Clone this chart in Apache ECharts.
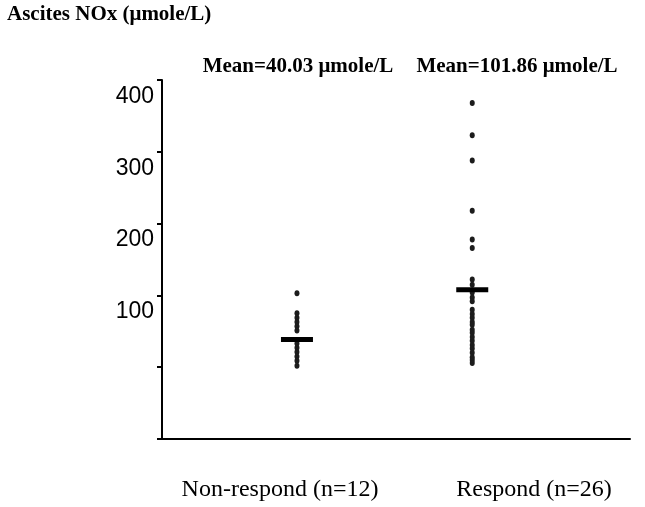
<!DOCTYPE html>
<html><head><meta charset="utf-8">
<script src="https://cdn.jsdelivr.net/npm/echarts@6/dist/echarts.min.js"></script>
<style>html,body{margin:0;padding:0;background:#fff}#c{width:645px;height:507px}</style>
</head><body><div id="c"></div>
<script>
const yAxisTitle = 'Ascites NOx (μmole/L)';
const groups = ['Non-respond (n=12)', 'Respond (n=26)'];
const groupX = [1, 2];
const meanLabels = ['Mean=40.03 μmole/L', 'Mean=101.86 μmole/L'];
const meanValues = [38.5, 108];
const nonRespond = [103, 75, 69, 63, 57, 51, 33, 27, 21, 15, 9, 2];
const respond = [368, 323, 288, 218, 178, 166, 122, 115, 104, 97, 92, 80, 74, 69, 63, 59, 52, 48, 42, 37, 31, 26, 20, 14, 10, 6];
const yTickLabels = [100, 200, 300, 400];

const serif = '"Liberation Serif", "Times New Roman", serif';
const chart = echarts.init(document.getElementById('c'));
const ptStyle = { color: '#1c1c1c', opacity: 1 };
chart.setOption({
  animation: false,
  grid: { left: 162, right: 15, top: 80, bottom: 68 },
  xAxis: {
    type: 'value', min: 0.23, max: 2.9,
    axisLine: { show: true, onZero: false, lineStyle: { color: '#000', width: 2 } },
    axisTick: { show: false }, axisLabel: { show: false }, splitLine: { show: false }
  },
  yAxis: {
    type: 'value', min: -100, max: 400, interval: 100,
    axisLine: { show: true, onZero: false, lineStyle: { color: '#000', width: 2 } },
    axisTick: { show: true, length: 5, lineStyle: { color: '#000', width: 2 } },
    splitLine: { show: false },
    axisLabel: {
      color: '#000', fontFamily: '"Liberation Sans", Arial, sans-serif', fontSize: 23,
      margin: 8, verticalAlign: 'top', lineHeight: 23, padding: [5, 0, 0, 0],
      formatter: v => yTickLabels.indexOf(v) >= 0 ? String(v) : ''
    }
  },
  series: [
    { type: 'scatter', symbol: 'circle', symbolSize: [5, 6], itemStyle: ptStyle,
      data: nonRespond.map(v => [groupX[0], v]) },
    { type: 'scatter', symbol: 'circle', symbolSize: [5, 6], itemStyle: ptStyle,
      data: respond.map(v => [groupX[1], v]) },
    { type: 'scatter', symbol: 'rect', symbolSize: [32, 5], itemStyle: { color: '#000', opacity: 1 }, z: 5,
      data: meanValues.map((v, i) => [groupX[i], v]) }
  ],
  graphic: [
    { type: 'text', left: 7, top: 4, style: { text: yAxisTitle, font: 'bold 21px ' + serif, fill: '#000' } },
    { type: 'text', x: 298, y: 67, style: { text: meanLabels[0], font: 'bold 21px ' + serif, fill: '#000', align: 'center', verticalAlign: 'middle' } },
    { type: 'text', x: 517, y: 67, style: { text: meanLabels[1], font: 'bold 21px ' + serif, fill: '#000', align: 'center', verticalAlign: 'middle' } },
    { type: 'text', x: 280, y: 490, style: { text: groups[0], font: '24px ' + serif, fill: '#000', align: 'center', verticalAlign: 'middle' } },
    { type: 'text', x: 534, y: 490, style: { text: groups[1], font: '24px ' + serif, fill: '#000', align: 'center', verticalAlign: 'middle' } }
  ]
});
</script></body></html>
